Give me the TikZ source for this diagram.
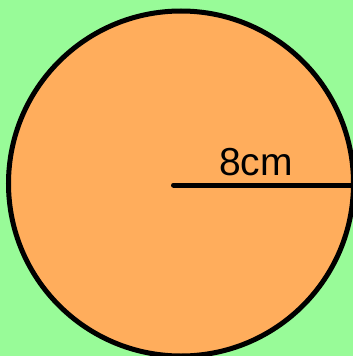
\documentclass[tikz,border=0pt]{standalone}
\usepackage{fontspec}
\setmainfont{Liberation Sans}
\definecolor{bggreen}{RGB}{152,251,152}
\definecolor{diskorange}{RGB}{255,173,92}
\begin{document}
\begin{tikzpicture}[x=1pt, y=-1pt,
    every node/.style={font=\fontsize{39}{39}\selectfont},
    disk/.style={draw, circle, fill=diskorange, line width=5pt, inner sep=0pt, outer sep=0pt, minimum size=345pt},
    radius/.style={line width=5pt, line cap=round}]
    \useasboundingbox (0,0) rectangle (353,356);
    \clip (0,0) rectangle (353,356);
    \fill[bggreen] (0,0) rectangle (353,356);

    \node[disk] (c) at (181,183.5) {};
    \coordinate (o) at (173.5,185);
    \draw[radius] (o) -- (c.east |- o);
    \node[anchor=base, inner sep=0pt] (r) at (256,175) {8cm};
\end{tikzpicture}
\end{document}
